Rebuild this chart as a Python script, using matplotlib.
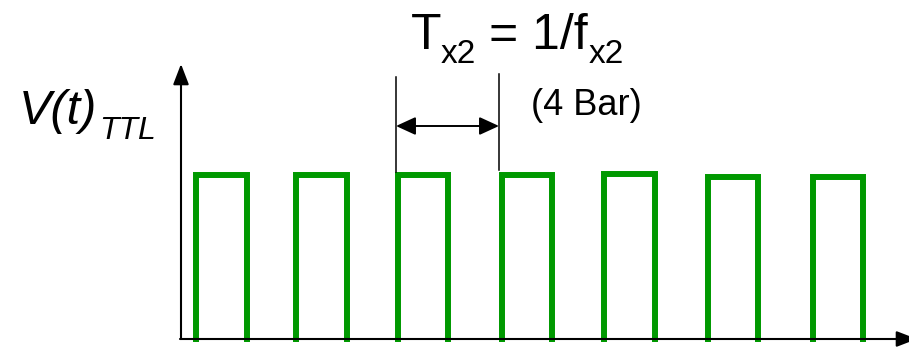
import matplotlib
matplotlib.use("Agg")
import matplotlib.pyplot as plt

# ---- data (time in px-like units from origin, level in same units) ----
rise_times = [15, 115, 217, 321, 423, 527, 632]
fall_times = [66, 166, 267, 371, 474, 577, 682]
high_levels = [163, 163, 163, 163, 164, 161, 161]
low_level = -4

period_marker = [215, 318]   # period dimension: from rise of pulse 3 to rise of pulse 4

title_main = "T"
title_sub = "x2"
title_eq = "= 1/f"
label_bar = "(4 Bar)"
ylabel_main = "V(t)"
ylabel_sub = "TTL"

W, H = 909, 347
OX, OY = 181, 338  # origin pixel

fig = plt.figure(figsize=(W / 100, H / 100), dpi=100)
ax = fig.add_axes([0, 0, 1, 1])
ax.set_xlim(-OX, W - OX)
ax.set_ylim(-(H - OY), OY)
ax.axis("off")

def P(px, py):
    return px - OX, OY - py

green = "#009900"
for r, f, h in zip(rise_times, fall_times, high_levels):
    ax.plot([r, r, f, f], [low_level, h, h, low_level], color=green, lw=4.3,
            solid_joinstyle="miter", solid_capstyle="butt")

# axes arrows
axis_arrow = dict(arrowstyle="-|>,head_length=12.5,head_width=4.8",
                  mutation_scale=1, color="black", lw=1.5, shrinkA=0, shrinkB=0)
ax.annotate("", xy=P(181, 64), xytext=P(181, 339), arrowprops=axis_arrow,
            annotation_clip=False)
ax.annotate("", xy=P(917, 339), xytext=P(180, 339), arrowprops=axis_arrow,
            annotation_clip=False)

# dimension lines
x1, x2 = period_marker
ax.plot([x1, x1], [OY - 77, OY - 172], color="black", lw=1.1)
ax.plot([x2, x2], [OY - 74, OY - 170], color="black", lw=1.1)
ax.annotate("", xy=(x1, OY - 126), xytext=(x2, OY - 126),
            arrowprops=dict(arrowstyle="<|-|>,head_length=12,head_width=5.5",
                            mutation_scale=1, color="black", lw=1.4,
                            shrinkA=0, shrinkB=0))

font = "Liberation Sans"
# title pieces
ax.text(*P(411, 49), title_main, fontsize=36, family=font, ha="left", va="baseline")
ax.text(*P(441, 63), title_sub, fontsize=24, family=font, ha="left", va="baseline")
ax.text(*P(489, 49), title_eq, fontsize=36, family=font, ha="left", va="baseline")
ax.text(*P(589, 63), title_sub, fontsize=24, family=font, ha="left", va="baseline")

ax.text(*P(531, 115), label_bar, fontsize=26, family=font, ha="left", va="baseline")

ax.text(*P(19, 124), ylabel_main, fontsize=35, family=font, style="italic",
        ha="left", va="baseline")
ax.text(*P(99, 139), ylabel_sub, fontsize=23, family=font, style="italic",
        ha="left", va="baseline")

fig.savefig("out.png", dpi=100)
